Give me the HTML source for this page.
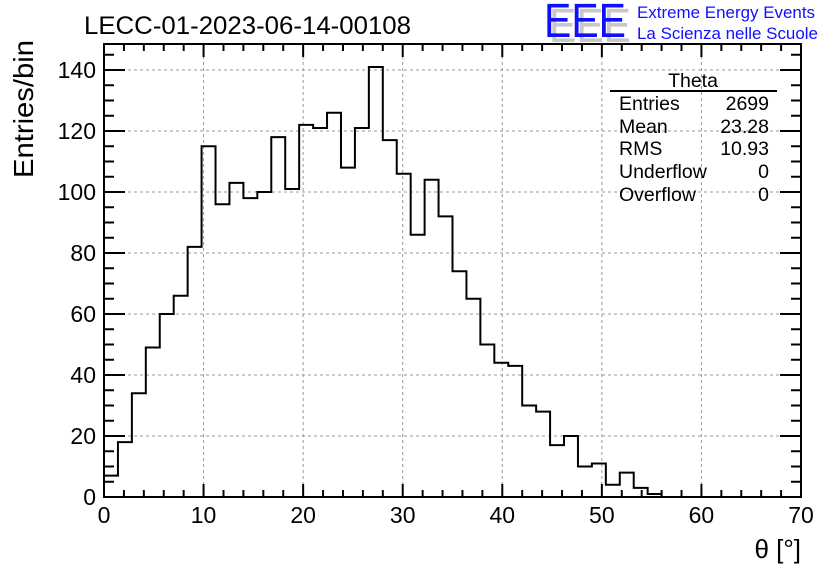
<!DOCTYPE html>
<html><head><meta charset="utf-8"><style>
body{margin:0;background:#fff;}
svg{display:block;font-family:"Liberation Sans",sans-serif;}
</style></head><body>
<svg id="c" width="836" height="572" viewBox="0 0 836 572">
<rect width="836" height="572" fill="#fff"/>
<g id="grid"></g>
<g id="ticks"></g>
<path id="hist" fill="none" stroke="#000" stroke-width="2"/>
<rect x="104" y="44" width="697" height="453" fill="none" stroke="#000" stroke-width="2"/>
<text x="84" y="34" font-size="25" textLength="327" lengthAdjust="spacingAndGlyphs">LECC-01-2023-06-14-00108</text>
<g>
<text x="549" y="42" font-size="48" fill="#c8c8c8" textLength="82" lengthAdjust="spacingAndGlyphs">EEE</text>
<text x="544" y="37" font-size="48" fill="#1010ff" textLength="82" lengthAdjust="spacingAndGlyphs">EEE</text>
<text x="637" y="18" font-size="17" fill="#1010ff" textLength="178" lengthAdjust="spacingAndGlyphs">Extreme Energy Events</text>
<text x="637" y="39" font-size="17" fill="#1010ff" textLength="181" lengthAdjust="spacingAndGlyphs">La Scienza nelle Scuole</text>
</g>
<g font-size="19.5">
<text x="693" y="87" text-anchor="middle">Theta</text>
<line x1="610" y1="91" x2="777" y2="91" stroke="#000" stroke-width="2"/>
<text x="619" y="110">Entries</text><text x="769" y="110" text-anchor="end">2699</text>
<text x="619" y="133">Mean</text><text x="769" y="133" text-anchor="end">23.28</text>
<text x="619" y="155">RMS</text><text x="769" y="155" text-anchor="end">10.93</text>
<text x="619" y="178">Underflow</text><text x="769" y="178" text-anchor="end">0</text>
<text x="619" y="201">Overflow</text><text x="769" y="201" text-anchor="end">0</text>
</g>
<text transform="translate(33,178) rotate(-90)" font-size="28" textLength="138" lengthAdjust="spacingAndGlyphs">Entries/bin</text>
<text x="801" y="558" font-size="26" text-anchor="end">θ [°]</text>
</svg>
<script>
const counts=[7,18,34,49,60,66,82,115,96,103,98,100,118,101,122,121,126,108,121,141,117,106,86,104,92,74,65,50,44,43,30,28,17,20,10,11,4,8,3,1,0,0,0,0,0,0,0,0,0,0];
const binWidth=1.4;
const xTicks=[0,10,20,30,40,50,60,70];
const yTicks=[0,20,40,60,80,100,120,140];
const X=v=>104+v*(697/70);
const Y=v=>497-v*3.05;
const ns="http://www.w3.org/2000/svg";
const grid=document.getElementById('grid'),ticks=document.getElementById('ticks');
function mk(tag,attrs,parent){const e=document.createElementNS(ns,tag);for(const k in attrs)e.setAttribute(k,attrs[k]);parent.appendChild(e);return e;}
xTicks.forEach(t=>{
  if(t>0&&t<70){const g=mk('line',{x1:X(t),x2:X(t),y1:44,y2:497,stroke:'#999','stroke-dasharray':'3,3'},grid);
  
  }
  const l=mk('text',{x:X(t),y:523,'font-size':23,'text-anchor':'middle'},ticks);l.textContent=t;
  
  
});
for(let t=0;t<=70;t+=2){const len=(t%10===0)?13:7;
  mk('line',{x1:X(t),x2:X(t),y1:497,y2:497-len,stroke:'#000','stroke-width':2},ticks);
  mk('line',{x1:X(t),x2:X(t),y1:44,y2:44+len,stroke:'#000','stroke-width':2},ticks);}
yTicks.forEach(t=>{
  if(t>0){const g=mk('line',{x1:104,x2:801,y1:Y(t),y2:Y(t),stroke:'#999','stroke-dasharray':'3,3'},grid);
  
  }
  const l=mk('text',{x:96,y:Y(t)+8,'font-size':23,'text-anchor':'end'},ticks);l.textContent=t;
  
  
});
for(let t=0;t<=145;t+=5){if(Y(t)<44)break;const len=(t%20===0)?21:10;
  mk('line',{x1:104,x2:104+len,y1:Y(t),y2:Y(t),stroke:'#000','stroke-width':2},ticks);
  mk('line',{x1:801,x2:801-len,y1:Y(t),y2:Y(t),stroke:'#000','stroke-width':2},ticks);}
let d='M'+X(0)+','+Y(0);
counts.forEach((c,i)=>{d+=' L'+X(i*binWidth)+','+Y(c)+' L'+X((i+1)*binWidth)+','+Y(c);});
document.getElementById('hist').setAttribute('d',d);
</script>
</body></html>
